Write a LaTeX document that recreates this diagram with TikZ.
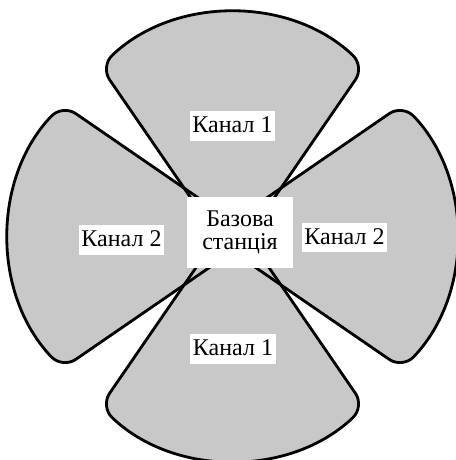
\documentclass[tikz,border=0pt]{standalone}
\usepackage{fontspec}
\setmainfont{Liberation Serif}
\definecolor{lobegray}{RGB}{200,200,200}

\begin{document}
\begin{tikzpicture}[x=0.75pt,y=0.75pt,yscale=-1,xscale=1,
  lobefill/.style={fill=lobegray, rounded corners=12pt},
  lobeline/.style={line width=2.1pt, rounded corners=12pt, line join=round},
  chanlabel/.style={fill=white, inner xsep=2pt, inner ysep=3pt, text height=13pt, text depth=3pt, font=\fontsize{18}{20}\selectfont},
  station/.style={fill=white, minimum width=79.5pt, minimum height=53pt, align=center, font=\fontsize{18}{17.5}\selectfont}]
\useasboundingbox (0,0) rectangle (455,460);

%Sectors: gray fill first
\foreach \ang in {0,90,180,270}
  \fill[lobefill, shift={(232.5,236.5)}, rotate=\ang]
    (0,22) -- (-132,-170) arc[start angle=226.25, end angle=313.75, radius=190.9] -- cycle;
%Sectors: outlines over all fills
\foreach \ang in {0,90,180,270}
  \draw[lobeline, shift={(232.5,236.5)}, rotate=\ang]
    (0,22) -- (-132,-170) arc[start angle=226.25, end angle=313.75, radius=190.9] -- cycle;

% Text Node
\node[station] (station) at (240,232.5) {Базова\\станція};
% Text Node
\node[chanlabel] (chtop) at (232.5,126) {Канал 1};
% Text Node
\node[chanlabel] (chbottom) at (233,349) {Канал 1};
% Text Node
\node[chanlabel] (chleft) at (121.5,240) {Канал 2};
% Text Node
\node[chanlabel] (chright) at (344.5,237.5) {Канал 2};

\end{tikzpicture}
\end{document}
